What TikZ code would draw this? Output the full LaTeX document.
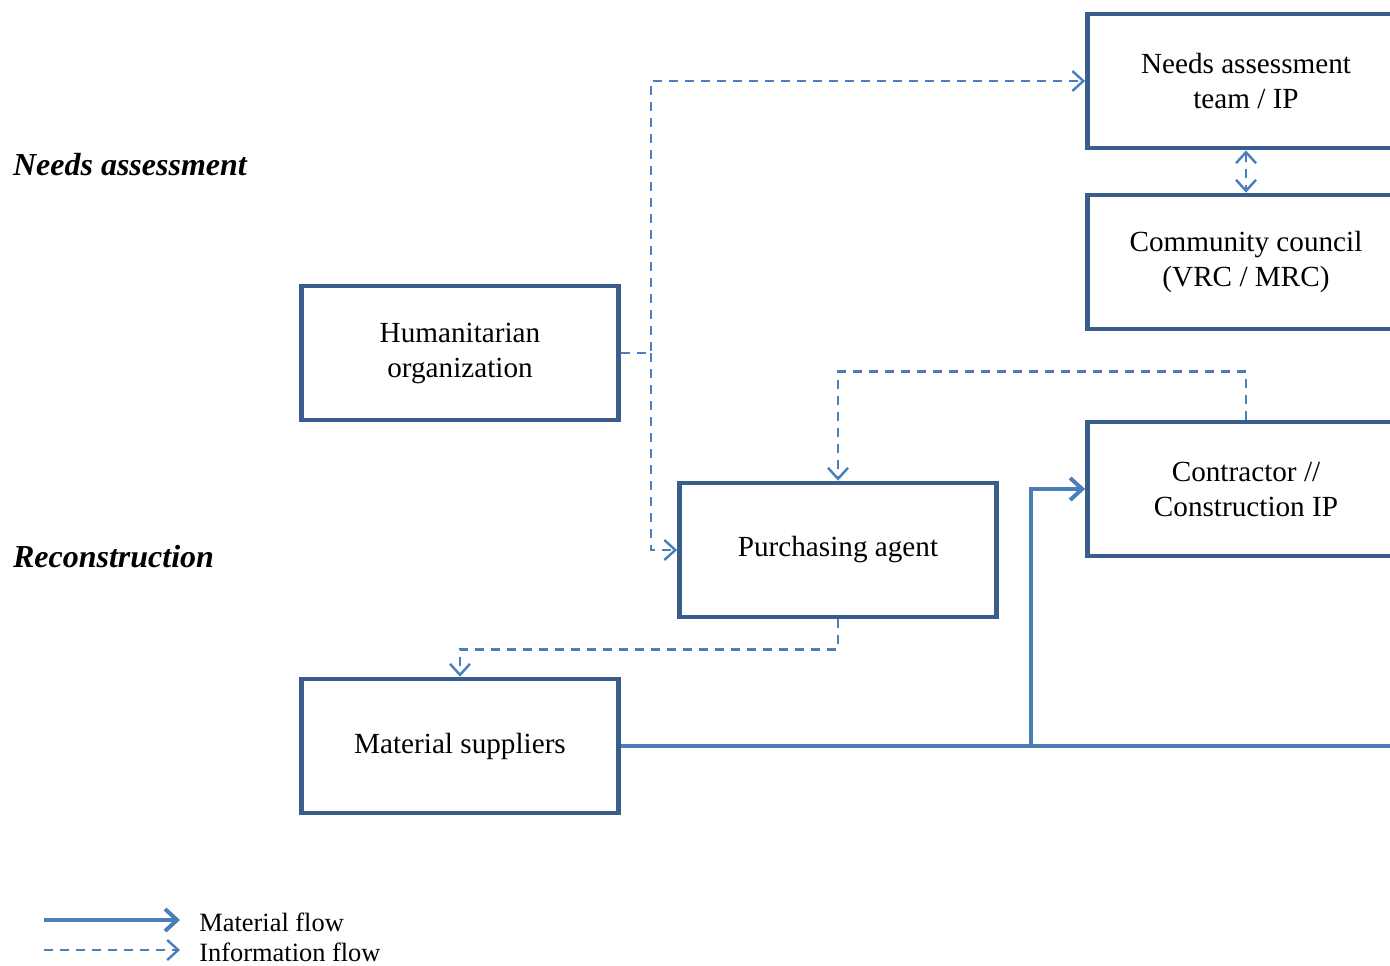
\documentclass[tikz,border=0pt]{standalone}
\usepackage{fontspec}
\setmainfont{Liberation Serif}
\usepackage{xcolor}
\usetikzlibrary{arrows.meta}
\definecolor{boxblue}{RGB}{58,94,140}
\definecolor{flowblue}{RGB}{74,126,187}
\tikzset{
  actor/.style={draw=boxblue, line width=2.4pt, minimum width=158.5pt, minimum height=67pt,
    align=center, font=\fontsize{14.6}{17.5}\selectfont},
  phase/.style={anchor=west, font=\fontsize{16}{19}\selectfont\bfseries\itshape},
  legendtxt/.style={anchor=west, inner sep=0pt, font=\fontsize{13.2}{15}\selectfont},
  matflow/.style={draw=flowblue, line width=2pt, -{Straight Barb[length=6pt,width=11pt,line width=2pt]}},
  matline/.style={draw=flowblue, line width=2pt},
  infoflow/.style={draw=flowblue, line width=1.2pt, dash pattern=on 4.5pt off 3.5pt,
    -{Straight Barb[length=5.5pt,width=10pt,line width=1.2pt]}},
}

\begin{document}
\begin{tikzpicture}[x=0.5pt, y=-0.5pt]
\useasboundingbox (0,0) rectangle (1390,965);
\clip (0,0) rectangle (1390,965);
% phases
\node[phase] (phneeds) at (6,165) {Needs assessment};
\node[phase] (phrecon) at (6,557) {Reconstruction};
% actors
\node[actor] (needs) at (1246,81) {Needs assessment\\ team / IP};
\node[actor] (council) at (1246,262) {Community council\\ (VRC / MRC)};
\node[actor] (hum) at (460,353) {Humanitarian\\ organization};
\node[actor] (contr) at (1246,489) {Contractor //\\ Construction IP};
\node[actor] (agent) at (838,550) {Purchasing agent};
\node[actor] (supp) at (460,746) {Material suppliers};
% information flow
\draw[infoflow] (hum.east) -- ++(30,0) coordinate (split) |- (needs.west);
\draw[infoflow] (split) |- (agent.west);
\draw[infoflow, {Straight Barb[length=5.5pt,width=10pt,line width=1.2pt]}-{Straight Barb[length=5.5pt,width=10pt,line width=1.2pt]}] (needs.south) -- (council.north);
\draw[infoflow] (contr.north) -- ++(0,-48) -| (agent.north);
\draw[infoflow] (agent.south) -- ++(0,30) -| (supp.north);
% material flow
\coordinate (outer) at (1420,746);
\coordinate (fork) at (1031,746);
\draw[matline] (supp.east) -- (outer);
\draw[matflow] (fork) |- (contr.west);
% legend
\coordinate (lm1) at (44,920);
\coordinate (lm2) at (180,920);
\coordinate (li1) at (44,950);
\coordinate (li2) at (180,950);
\draw[matflow] (lm1) -- (lm2);
\draw[infoflow] (li1) -- (li2);
\node[legendtxt] (lgmat) at (199,922) {Material flow};
\node[legendtxt] (lginfo) at (199,952) {Information flow};
\end{tikzpicture}
\end{document}
